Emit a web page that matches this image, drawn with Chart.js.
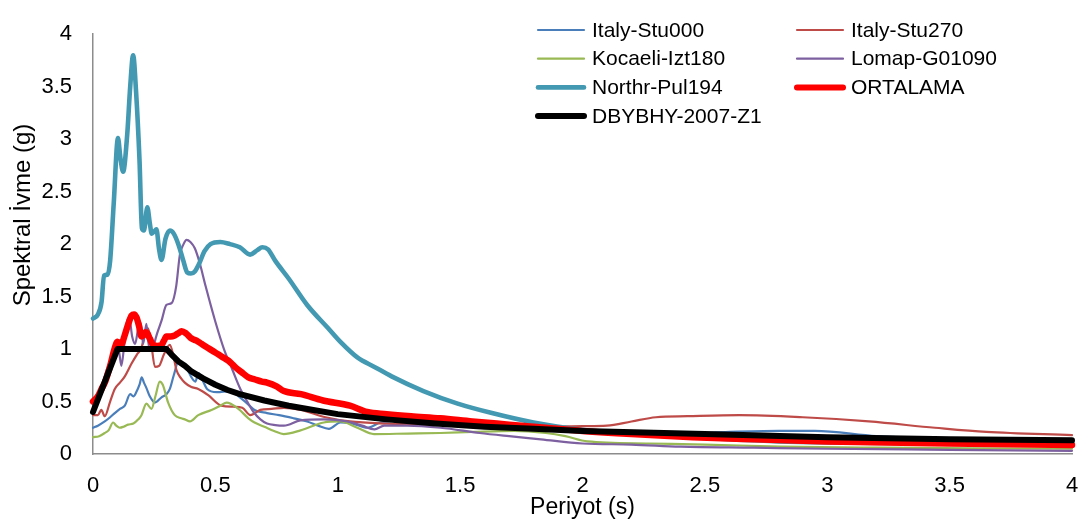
<!DOCTYPE html>
<html>
<head>
<meta charset="utf-8">
<title>Spektral İvme - Periyot</title>
<script src="https://cdn.jsdelivr.net/npm/chart.js@4.4.1/dist/chart.umd.min.js"></script>
<style>
    html, body { margin: 0; padding: 0; background: #ffffff; }
    #wrap { position: relative; width: 1088px; height: 524px; }
</style>
</head>
<body>
<div id="wrap"><canvas id="spectrumChart" width="1088" height="524"></canvas></div>
<script>
// Response spectra: period (s) and spectral acceleration (g) for each record
const stu000T  = [0, 0.02, 0.048, 0.07, 0.089, 0.11, 0.13, 0.152, 0.165, 0.177, 0.19, 0.199, 0.208, 0.218, 0.232, 0.253, 0.28, 0.3, 0.314, 0.33, 0.349, 0.366, 0.384, 0.4, 0.418, 0.431, 0.448, 0.466, 0.506, 0.561, 0.595, 0.635, 0.66, 0.711, 0.76, 0.82, 0.875, 0.92, 0.964, 1.011, 1.06, 1.121, 1.175, 1.285, 1.5, 1.8, 2.0, 2.2, 2.4, 2.6, 2.8, 2.95, 3.2, 3.5, 4.0];
const stu000Sa = [0.25, 0.27, 0.31, 0.35, 0.39, 0.43, 0.46, 0.57, 0.55, 0.59, 0.66, 0.73, 0.68, 0.63, 0.55, 0.49, 0.54, 0.57, 0.62, 0.75, 0.88, 0.84, 0.81, 0.74, 0.69, 0.77, 0.70, 0.62, 0.59, 0.60, 0.55, 0.47, 0.42, 0.39, 0.37, 0.34, 0.31, 0.27, 0.24, 0.30, 0.29, 0.25, 0.30, 0.32, 0.29, 0.24, 0.21, 0.19, 0.19, 0.21, 0.22, 0.22, 0.17, 0.15, 0.12];

const stu270T  = [0, 0.02, 0.034, 0.048, 0.07, 0.089, 0.11, 0.13, 0.157, 0.18, 0.198, 0.212, 0.224, 0.238, 0.253, 0.27, 0.29, 0.314, 0.33, 0.341, 0.36, 0.375, 0.4, 0.43, 0.471, 0.525, 0.575, 0.61, 0.643, 0.684, 0.73, 0.78, 0.85, 0.95, 1.05, 1.2, 1.4, 1.6, 1.8, 2.0, 2.1, 2.2, 2.3, 2.43, 2.64, 2.9, 3.17, 3.44, 3.65, 4.0];
const stu270Sa = [0.37, 0.37, 0.42, 0.36, 0.50, 0.62, 0.68, 0.74, 0.86, 0.95, 1.01, 1.15, 1.20, 1.05, 0.83, 0.84, 0.95, 1.04, 0.92, 0.80, 0.72, 0.68, 0.64, 0.62, 0.56, 0.46, 0.45, 0.44, 0.37, 0.42, 0.43, 0.44, 0.42, 0.35, 0.31, 0.29, 0.28, 0.27, 0.26, 0.265, 0.27, 0.31, 0.35, 0.36, 0.37, 0.35, 0.31, 0.25, 0.21, 0.18];

const izt180T  = [0, 0.025, 0.048, 0.065, 0.082, 0.095, 0.109, 0.125, 0.143, 0.165, 0.185, 0.198, 0.218, 0.239, 0.255, 0.273, 0.285, 0.307, 0.334, 0.36, 0.375, 0.396, 0.43, 0.484, 0.52, 0.546, 0.594, 0.635, 0.66, 0.70, 0.74, 0.779, 0.848, 0.943, 1.011, 1.08, 1.148, 1.285, 1.42, 1.55, 1.72, 1.85, 1.93, 2.02, 2.27, 2.5, 2.81, 3.2, 3.6, 4.0];
const izt180Sa = [0.16, 0.17, 0.20, 0.23, 0.30, 0.27, 0.25, 0.26, 0.28, 0.29, 0.33, 0.37, 0.48, 0.43, 0.55, 0.69, 0.66, 0.49, 0.37, 0.34, 0.33, 0.31, 0.37, 0.42, 0.46, 0.49, 0.43, 0.34, 0.30, 0.26, 0.22, 0.19, 0.225, 0.30, 0.31, 0.25, 0.19, 0.195, 0.20, 0.21, 0.22, 0.20, 0.17, 0.12, 0.10, 0.09, 0.07, 0.06, 0.055, 0.05];

const g01090T  = [0, 0.03, 0.056, 0.075, 0.092, 0.104, 0.116, 0.128, 0.138, 0.148, 0.16, 0.172, 0.185, 0.195, 0.205, 0.218, 0.23, 0.245, 0.262, 0.28, 0.3, 0.322, 0.34, 0.355, 0.37, 0.382, 0.398, 0.416, 0.436, 0.46, 0.5, 0.535, 0.57, 0.602, 0.63, 0.656, 0.684, 0.711, 0.745, 0.78, 0.848, 0.943, 1.04, 1.1, 1.15, 1.19, 1.285, 1.42, 1.58, 1.7, 1.83, 2.0, 2.2, 2.4, 2.7, 3.0, 3.5, 4.0];
const g01090Sa = [0.45, 0.60, 0.80, 0.90, 0.98, 1.00, 0.84, 1.05, 1.25, 1.30, 1.12, 1.05, 1.20, 1.25, 1.05, 1.24, 1.00, 1.02, 1.15, 1.27, 1.42, 1.44, 1.60, 1.90, 2.00, 2.04, 2.02, 1.96, 1.82, 1.60, 1.26, 1.00, 0.80, 0.62, 0.50, 0.40, 0.33, 0.29, 0.275, 0.27, 0.32, 0.33, 0.31, 0.27, 0.235, 0.27, 0.27, 0.25, 0.20, 0.17, 0.14, 0.10, 0.09, 0.07, 0.06, 0.05, 0.04, 0.03];

const pul194T  = [0, 0.02, 0.035, 0.045, 0.06, 0.07, 0.085, 0.102, 0.112, 0.123, 0.14, 0.152, 0.164, 0.176, 0.19, 0.2, 0.208, 0.222, 0.232, 0.24, 0.25, 0.259, 0.27, 0.28, 0.296, 0.314, 0.33, 0.35, 0.368, 0.385, 0.4, 0.416, 0.435, 0.455, 0.48, 0.52, 0.56, 0.6, 0.642, 0.67, 0.692, 0.715, 0.745, 0.8, 0.875, 0.96, 1.01, 1.08, 1.15, 1.22, 1.35, 1.49, 1.63, 1.8, 2.0, 2.2, 2.4, 2.6, 2.8, 3.0, 3.5, 4.0];
const pul194Sa = [1.29, 1.33, 1.45, 1.70, 1.71, 1.84, 2.40, 3.01, 2.82, 2.69, 3.05, 3.50, 3.80, 3.45, 2.80, 2.15, 2.13, 2.35, 2.20, 2.10, 2.12, 2.14, 1.95, 1.85, 2.05, 2.13, 2.10, 1.99, 1.85, 1.73, 1.72, 1.74, 1.82, 1.93, 2.00, 2.02, 2.00, 1.97, 1.90, 1.94, 1.97, 1.95, 1.84, 1.67, 1.42, 1.20, 1.07, 0.92, 0.83, 0.74, 0.60, 0.48, 0.39, 0.30, 0.23, 0.19, 0.165, 0.14, 0.12, 0.11, 0.10, 0.10];

const meanT  = [0, 0.02, 0.035, 0.05, 0.07, 0.089, 0.1, 0.115, 0.128, 0.143, 0.158, 0.168, 0.178, 0.188, 0.198, 0.206, 0.214, 0.222, 0.232, 0.246, 0.262, 0.28, 0.29, 0.3, 0.317, 0.334, 0.348, 0.362, 0.38, 0.403, 0.423, 0.443, 0.47, 0.498, 0.525, 0.553, 0.58, 0.607, 0.635, 0.662, 0.69, 0.711, 0.75, 0.78, 0.85, 0.94, 1.05, 1.12, 1.2, 1.3, 1.42, 1.55, 1.7, 1.85, 2.0, 2.2, 2.45, 2.7, 3.0, 3.5, 4.0];
const meanSa = [0.50, 0.55, 0.62, 0.69, 0.84, 1.01, 1.07, 1.04, 1.12, 1.23, 1.32, 1.33, 1.30, 1.22, 1.12, 1.13, 1.16, 1.15, 1.10, 1.04, 1.03, 1.04, 1.08, 1.12, 1.12, 1.13, 1.15, 1.17, 1.15, 1.10, 1.08, 1.05, 1.01, 0.97, 0.93, 0.89, 0.83, 0.78, 0.73, 0.71, 0.69, 0.68, 0.645, 0.60, 0.57, 0.51, 0.46, 0.40, 0.38, 0.36, 0.34, 0.31, 0.28, 0.25, 0.22, 0.19, 0.16, 0.14, 0.12, 0.10, 0.085];

// DBYBHY-2007 design spectrum, zone 1
const codeT  = [0, 0.1, 0.3, 0.32, 0.35, 0.375, 0.4, 0.45, 0.5, 0.55, 0.6, 0.7, 0.8, 0.9, 1.0, 1.2, 1.4, 1.6, 1.8, 2.0, 2.5, 3.0, 3.5, 4.0];
const codeSa = [0.40, 1.00, 1.00, 0.95, 0.88, 0.84, 0.79, 0.72, 0.66, 0.61, 0.57, 0.51, 0.46, 0.42, 0.38, 0.33, 0.29, 0.26, 0.24, 0.22, 0.19, 0.16, 0.14, 0.13];

const seriesNames = ['Italy-Stu000', 'Italy-Stu270', 'Kocaeli-Izt180', 'Lomap-G01090', 'Northr-Pul194', 'ORTALAMA', 'DBYBHY-2007-Z1'];
const periodTicks = [0, 0.5, 1, 1.5, 2, 2.5, 3, 3.5, 4];
const accelTicks  = [0, 0.5, 1, 1.5, 2, 2.5, 3, 3.5, 4];

const FONT = '"Liberation Sans", Arial, sans-serif';

function toPoints(periods, values) {
    return periods.map((t, i) => ({ x: t, y: values[i] }));
}

function makeSeries(idx, periods, values, color, width, smooth) {
    return {
        label: seriesNames[idx],
        data: toPoints(periods, values),
        borderColor: color,
        borderWidth: width,
        pointRadius: 0,
        fill: false,
        cubicInterpolationMode: smooth ? 'monotone' : 'default',
        tension: 0,
        borderJoinStyle: 'round',
        borderCapStyle: 'round',
        clip: 8,
        // later series sit on top
        order: seriesNames.length - idx
    };
}

// Two-column legend in the upper right plus the rotated y-axis title
const extrasPlugin = {
    id: 'extras',
    afterDraw(chart) {
        const ctx = chart.ctx;
        ctx.save();
        ctx.font = '21px ' + FONT;
        ctx.textBaseline = 'middle';
        ctx.textAlign = 'left';
        chart.data.datasets.forEach(function (ds, i) {
            const col = i % 2;
            const row = Math.floor(i / 2);
            const x = col ? 797 : 538;
            const y = 30 + row * 28.7;
            ctx.strokeStyle = ds.borderColor;
            ctx.lineWidth = Math.min(ds.borderWidth, 6);
            ctx.lineCap = 'round';
            ctx.beginPath();
            ctx.moveTo(x, y);
            ctx.lineTo(x + 46, y);
            ctx.stroke();
            ctx.fillStyle = '#000000';
            ctx.fillText(ds.label, x + 54, y + 1);
        });

        ctx.translate(23, 215);
        ctx.rotate(-Math.PI / 2);
        ctx.textAlign = 'center';
        ctx.font = '24px ' + FONT;
        ctx.fillStyle = '#000000';
        ctx.fillText('Spektral İvme (g)', 0, 0);
        ctx.restore();
    }
};

const ctx = document.getElementById('spectrumChart').getContext('2d');
window.spectrumChart = new Chart(ctx, {
    type: 'line',
    data: {
        datasets: [
            makeSeries(0, stu000T, stu000Sa, '#4a7ebb', 2.2, true),
            makeSeries(1, stu270T, stu270Sa, '#be4b48', 2.2, true),
            makeSeries(2, izt180T, izt180Sa, '#98b954', 2.2, true),
            makeSeries(3, g01090T, g01090Sa, '#7d60a0', 2.2, true),
            makeSeries(4, pul194T, pul194Sa, '#4299b1', 4.6, true),
            makeSeries(5, meanT, meanSa, '#ff0000', 6.5, true),
            makeSeries(6, codeT, codeSa, '#000000', 6, false)
        ]
    },
    options: {
        responsive: false,
        animation: false,
        layout: { padding: { top: 16, right: 16, left: 0, bottom: 0 } },
        plugins: {
            legend: { display: false },
            tooltip: { enabled: false }
        },
        scales: {
            x: {
                type: 'linear',
                min: 0,
                max: 4,
                afterBuildTicks: function (scale) {
                    scale.ticks = periodTicks.map(v => ({ value: v }));
                },
                afterFit: function (scale) {
                    scale.height = 70;
                    scale.paddingLeft = 0;
                    scale.paddingRight = 0;
                },
                grid: { display: false, drawTicks: false },
                border: { display: true, color: '#8c8c8c', width: 1.5 },
                ticks: {
                    padding: 19,
                    color: '#000000',
                    font: { family: FONT, size: 22 },
                    maxRotation: 0,
                    callback: v => String(v)
                },
                title: {
                    display: true,
                    text: 'Periyot (s)',
                    color: '#000000',
                    font: { family: FONT, size: 23 },
                    padding: { top: 0, bottom: 3 }
                }
            },
            y: {
                type: 'linear',
                min: 0,
                max: 4,
                afterBuildTicks: function (scale) {
                    scale.ticks = accelTicks.map(v => ({ value: v }));
                },
                afterFit: function (scale) { scale.width = 93; },
                grid: { display: false, drawTicks: false },
                border: { display: true, color: '#8c8c8c', width: 1.5 },
                ticks: {
                    padding: 21,
                    color: '#000000',
                    font: { family: FONT, size: 22 },
                    callback: v => String(v)
                }
            }
        }
    },
    plugins: [extrasPlugin]
});
</script>
</body>
</html>
